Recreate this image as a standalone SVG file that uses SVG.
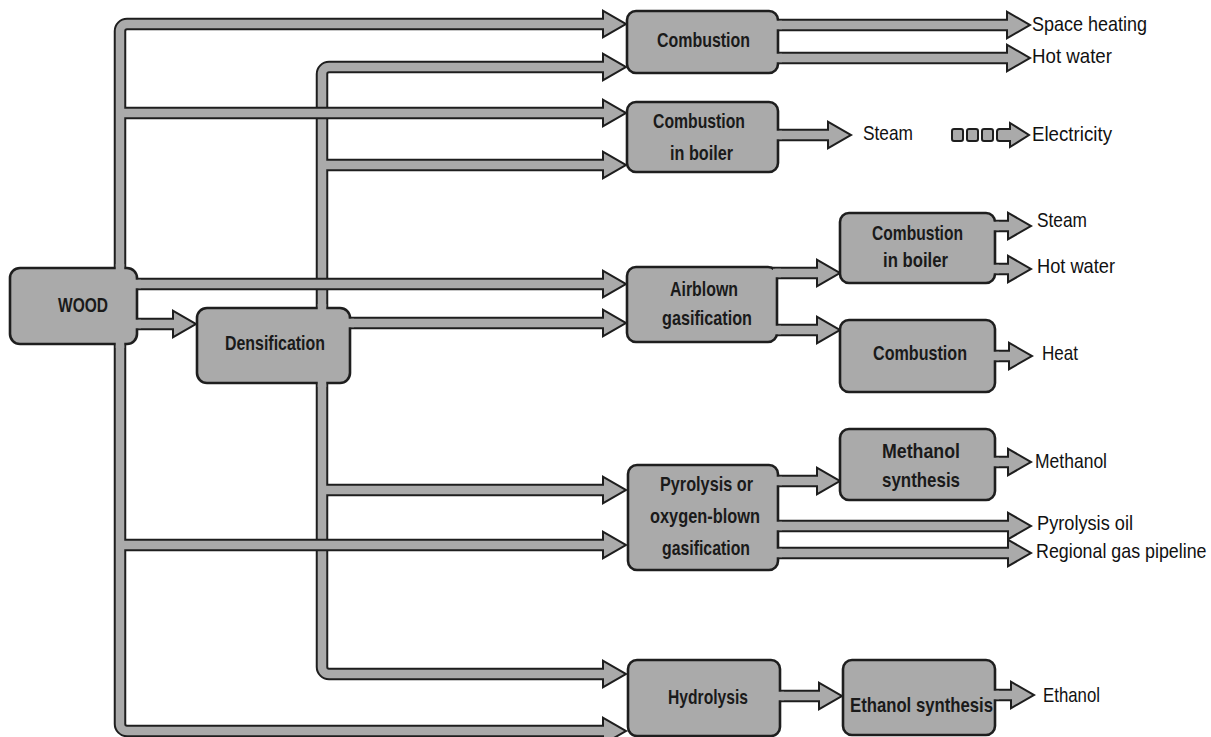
<svg xmlns="http://www.w3.org/2000/svg" xmlns:xlink="http://www.w3.org/1999/xlink" width="1211" height="737" viewBox="0 0 1211 737">
<style>
.pd{fill:none;stroke:#1e1e1e;stroke-width:12.5;stroke-linecap:butt}
.pg{fill:none;stroke:#aaaaaa;stroke-width:8.5;stroke-linecap:butt}
.hd{fill:#1e1e1e;stroke:#1e1e1e;stroke-width:4;stroke-linejoin:miter}
.hg{fill:#aaaaaa;stroke:none}
.box{fill:#aaaaaa;stroke:#1e1e1e;stroke-width:2.6}
.patch{fill:#aaaaaa;stroke:none}
.lbl{font-family:"Liberation Sans",Arial,sans-serif;font-weight:bold;font-size:21px;fill:#1a1a1a;text-anchor:middle}
.out{font-family:"Liberation Sans",Arial,sans-serif;font-size:21px;fill:#111}
.sq{fill:#aaaaaa;stroke:#1e1e1e;stroke-width:2}
</style>
<defs>
<path id="d1" d="M 606 67 H 329 A 7 7 0 0 0 322 74 V 667 A 7 7 0 0 0 329 674 H 606"/>
<path id="d2" d="M 322 165 H 606"/>
<path id="d3" d="M 340 323 H 606"/>
<path id="d4" d="M 322 490 H 606"/>
<polygon id="dh1" points="604,55.5 624,67 604,78.5"/>
<polygon id="dh2" points="604,153.5 624,165 604,176.5"/>
<polygon id="dh3" points="604,311.5 624,323 604,334.5"/>
<polygon id="dh4" points="604,478.5 624,490 604,501.5"/>
<polygon id="dh5" points="604,662.5 624,674 604,685.5"/>
<path id="w1" d="M 606 24 H 127 A 7 7 0 0 0 120 31 V 724 A 7 7 0 0 0 127 731 H 606"/>
<path id="w2" d="M 120 113 H 606"/>
<path id="w3" d="M 120 284 H 606"/>
<path id="w4" d="M 120 545 H 606"/>
<path id="w5" d="M 120 324 H 176"/>
<polygon id="wh1" points="604,12.5 624,24 604,35.5"/>
<polygon id="wh2" points="604,101.5 624,113 604,124.5"/>
<polygon id="wh3" points="604,272.5 624,284 604,295.5"/>
<polygon id="wh4" points="604,533.5 624,545 604,556.5"/>
<polygon id="wh5" points="604,719.5 624,731 604,742.5"/>
<polygon id="wh6" points="174,312.5 194,324 174,335.5"/>
<path id="o1" d="M 770 25 H 1010"/>
<path id="o2" d="M 770 58 H 1010"/>
<path id="o3" d="M 770 135 H 831"/>
<path id="o4" d="M 770 273 H 820"/>
<path id="o5" d="M 770 330 H 820"/>
<path id="o6" d="M 770 481 H 820"/>
<path id="o7" d="M 770 526 H 1011"/>
<path id="o8" d="M 770 553 H 1011"/>
<path id="o9" d="M 772 696 H 822"/>
<path id="o10" d="M 988 226 H 1011"/>
<path id="o11" d="M 988 269 H 1011"/>
<path id="o12" d="M 988 356 H 1012"/>
<path id="o13" d="M 988 462 H 1011"/>
<path id="o14" d="M 988 695 H 1014"/>
<polygon id="oh1" points="1008,13.5 1028,25 1008,36.5"/>
<polygon id="oh2" points="1008,46.5 1028,58 1008,69.5"/>
<polygon id="oh3" points="829,123.5 849,135 829,146.5"/>
<polygon id="oh4" points="818,261.5 838,273 818,284.5"/>
<polygon id="oh5" points="818,318.5 838,330 818,341.5"/>
<polygon id="oh6" points="818,469.5 838,481 818,492.5"/>
<polygon id="oh7" points="1009,514.5 1029,526 1009,537.5"/>
<polygon id="oh8" points="1009,541.5 1029,553 1009,564.5"/>
<polygon id="oh9" points="820,684.5 840,696 820,707.5"/>
<polygon id="oh10" points="1009,214.5 1029,226 1009,237.5"/>
<polygon id="oh11" points="1009,257.5 1029,269 1009,280.5"/>
<polygon id="oh12" points="1010,344.5 1030,356 1010,367.5"/>
<polygon id="oh13" points="1009,450.5 1029,462 1009,473.5"/>
<polygon id="oh14" points="1012,683.5 1032,695 1012,706.5"/>
</defs>
<rect width="1211" height="737" fill="#ffffff"/>

<g id="connectors">
  <g id="conn-densification">
    <g class="pd"><use href="#d1"/><use href="#d2"/><use href="#d3"/><use href="#d4"/></g>
    <g class="hd"><use href="#dh1"/><use href="#dh2"/><use href="#dh3"/><use href="#dh4"/><use href="#dh5"/></g>
    <g class="pg"><use href="#d1"/><use href="#d2"/><use href="#d3"/><use href="#d4"/></g>
    <g class="hg"><use href="#dh1"/><use href="#dh2"/><use href="#dh3"/><use href="#dh4"/><use href="#dh5"/></g>
  </g>
  <g id="conn-wood">
    <g class="pd"><use href="#w1"/><use href="#w2"/><use href="#w3"/><use href="#w4"/><use href="#w5"/></g>
    <g class="hd"><use href="#wh1"/><use href="#wh2"/><use href="#wh3"/><use href="#wh4"/><use href="#wh5"/><use href="#wh6"/></g>
    <g class="pg"><use href="#w1"/><use href="#w2"/><use href="#w3"/><use href="#w4"/><use href="#w5"/></g>
    <g class="hg"><use href="#wh1"/><use href="#wh2"/><use href="#wh3"/><use href="#wh4"/><use href="#wh5"/><use href="#wh6"/></g>
  </g>
  <g id="conn-outputs">
    <g class="pd"><use href="#o1"/><use href="#o2"/><use href="#o3"/><use href="#o4"/><use href="#o5"/><use href="#o6"/><use href="#o7"/><use href="#o8"/><use href="#o9"/><use href="#o10"/><use href="#o11"/><use href="#o12"/><use href="#o13"/><use href="#o14"/></g>
    <g class="hd"><use href="#oh1"/><use href="#oh2"/><use href="#oh3"/><use href="#oh4"/><use href="#oh5"/><use href="#oh6"/><use href="#oh7"/><use href="#oh8"/><use href="#oh9"/><use href="#oh10"/><use href="#oh11"/><use href="#oh12"/><use href="#oh13"/><use href="#oh14"/></g>
    <g class="pg"><use href="#o1"/><use href="#o2"/><use href="#o3"/><use href="#o4"/><use href="#o5"/><use href="#o6"/><use href="#o7"/><use href="#o8"/><use href="#o9"/><use href="#o10"/><use href="#o11"/><use href="#o12"/><use href="#o13"/><use href="#o14"/></g>
    <g class="hg"><use href="#oh1"/><use href="#oh2"/><use href="#oh3"/><use href="#oh4"/><use href="#oh5"/><use href="#oh6"/><use href="#oh7"/><use href="#oh8"/><use href="#oh9"/><use href="#oh10"/><use href="#oh11"/><use href="#oh12"/><use href="#oh13"/><use href="#oh14"/></g>
  </g>
  <g id="conn-electricity">
    <rect class="sq" x="952" y="129" width="11" height="12" rx="2"/>
    <rect class="sq" x="967" y="129" width="11" height="12" rx="2"/>
    <rect class="sq" x="982" y="129" width="11" height="12" rx="2"/>
    <path class="sq" d="M 1010 129 H 999.5 Q 997 129 997 131.5 V 138.5 Q 997 141 999.5 141 H 1010 V 147 L 1029 135 L 1010 123 Z"/>
  </g>
</g>

<g id="node-wood">
  <rect class="box" x="10" y="268" width="127" height="76" rx="10"/>
  <rect class="patch" x="115.75" y="264" width="8.5" height="8"/>
  <rect class="patch" x="115.75" y="340" width="8.5" height="8"/>
  <rect class="patch" x="133" y="279.75" width="8" height="8.5"/>
  <rect class="patch" x="133" y="319.75" width="8" height="8.5"/>
  <text class="lbl" x="83" y="312" textLength="50" lengthAdjust="spacingAndGlyphs">WOOD</text>
</g>
<g id="node-densification">
  <rect class="box" x="197" y="308" width="153" height="75" rx="10"/>
  <rect class="patch" x="317.75" y="304" width="8.5" height="8"/>
  <rect class="patch" x="317.75" y="379" width="8.5" height="8"/>
  <rect class="patch" x="346" y="318.75" width="8" height="8.5"/>
  <text class="lbl" x="275" y="350" textLength="100" lengthAdjust="spacingAndGlyphs">Densification</text>
</g>
<g id="node-combustion-1">
  <rect class="box" x="627" y="11" width="151" height="62" rx="9"/>
  <rect class="patch" x="774" y="20.75" width="8" height="8.5"/>
  <rect class="patch" x="774" y="53.75" width="8" height="8.5"/>
  <text class="lbl" x="703.5" y="47" textLength="93" lengthAdjust="spacingAndGlyphs">Combustion</text>
</g>
<g id="node-combustion-boiler-1">
  <rect class="box" x="627" y="102" width="151" height="70" rx="9"/>
  <rect class="patch" x="774" y="130.75" width="8" height="8.5"/>
  <text class="lbl" x="699" y="128" textLength="92" lengthAdjust="spacingAndGlyphs">Combustion</text>
  <text class="lbl" x="701.5" y="160" textLength="63" lengthAdjust="spacingAndGlyphs">in boiler</text>
</g>
<g id="node-airblown">
  <rect class="box" x="627" y="267" width="150" height="75" rx="9"/>
  <rect class="patch" x="773" y="268.75" width="8" height="8.5"/>
  <rect class="patch" x="773" y="325.75" width="8" height="8.5"/>
  <text class="lbl" x="704" y="296" textLength="68" lengthAdjust="spacingAndGlyphs">Airblown</text>
  <text class="lbl" x="707" y="325" textLength="90" lengthAdjust="spacingAndGlyphs">gasification</text>
</g>
<g id="node-pyrolysis">
  <rect class="box" x="628" y="465" width="150" height="105" rx="9"/>
  <rect class="patch" x="774" y="476.75" width="8" height="8.5"/>
  <rect class="patch" x="774" y="521.75" width="8" height="8.5"/>
  <rect class="patch" x="774" y="548.75" width="8" height="8.5"/>
  <text class="lbl" x="706.5" y="491" textLength="93" lengthAdjust="spacingAndGlyphs">Pyrolysis or</text>
  <text class="lbl" x="705" y="523" textLength="110" lengthAdjust="spacingAndGlyphs">oxygen-blown</text>
  <text class="lbl" x="706" y="555" textLength="88" lengthAdjust="spacingAndGlyphs">gasification</text>
</g>
<g id="node-hydrolysis">
  <rect class="box" x="628" y="660" width="152" height="76" rx="9"/>
  <rect class="patch" x="776" y="691.75" width="8" height="8.5"/>
  <text class="lbl" x="708" y="704" textLength="80" lengthAdjust="spacingAndGlyphs">Hydrolysis</text>
</g>
<g id="node-combustion-boiler-2">
  <rect class="box" x="840" y="213" width="155" height="70" rx="9"/>
  <rect class="patch" x="991" y="221.75" width="8" height="8.5"/>
  <rect class="patch" x="991" y="264.75" width="8" height="8.5"/>
  <text class="lbl" x="917.5" y="240" textLength="91" lengthAdjust="spacingAndGlyphs">Combustion</text>
  <text class="lbl" x="915.5" y="267" textLength="65" lengthAdjust="spacingAndGlyphs">in boiler</text>
</g>
<g id="node-combustion-2">
  <rect class="box" x="840" y="320" width="155" height="72" rx="9"/>
  <rect class="patch" x="991" y="351.75" width="8" height="8.5"/>
  <text class="lbl" x="920" y="360" textLength="94" lengthAdjust="spacingAndGlyphs">Combustion</text>
</g>
<g id="node-methanol-synthesis">
  <rect class="box" x="840" y="429" width="155" height="71" rx="9"/>
  <rect class="patch" x="991" y="457.75" width="8" height="8.5"/>
  <text class="lbl" x="921" y="458" textLength="78" lengthAdjust="spacingAndGlyphs">Methanol</text>
  <text class="lbl" x="921" y="487" textLength="78" lengthAdjust="spacingAndGlyphs">synthesis</text>
</g>
<g id="node-ethanol-synthesis">
  <rect class="box" x="843" y="660" width="152" height="75" rx="9"/>
  <rect class="patch" x="991" y="690.75" width="8" height="8.5"/>
  <text class="lbl" x="921.5" y="712" textLength="143" lengthAdjust="spacingAndGlyphs">Ethanol synthesis</text>
</g>

<g id="out-space-heating"><text class="out" x="1032" y="31" textLength="115" lengthAdjust="spacingAndGlyphs">Space heating</text></g>
<g id="out-hot-water-1"><text class="out" x="1032" y="63" textLength="80" lengthAdjust="spacingAndGlyphs">Hot water</text></g>
<g id="out-steam-1"><text class="out" x="863" y="140" textLength="50" lengthAdjust="spacingAndGlyphs">Steam</text></g>
<g id="out-electricity"><text class="out" x="1032" y="141" textLength="80" lengthAdjust="spacingAndGlyphs">Electricity</text></g>
<g id="out-steam-2"><text class="out" x="1037" y="227" textLength="50" lengthAdjust="spacingAndGlyphs">Steam</text></g>
<g id="out-hot-water-2"><text class="out" x="1037" y="273" textLength="78" lengthAdjust="spacingAndGlyphs">Hot water</text></g>
<g id="out-heat"><text class="out" x="1042" y="360" textLength="36" lengthAdjust="spacingAndGlyphs">Heat</text></g>
<g id="out-methanol"><text class="out" x="1035" y="468" textLength="72" lengthAdjust="spacingAndGlyphs">Methanol</text></g>
<g id="out-pyrolysis-oil"><text class="out" x="1037" y="530" textLength="96" lengthAdjust="spacingAndGlyphs">Pyrolysis oil</text></g>
<g id="out-regional-gas"><text class="out" transform="translate(1036,558) scale(0.85,1)" x="0" y="0">Regional gas pipeline</text></g>
<g id="out-ethanol"><text class="out" x="1043" y="702" textLength="57" lengthAdjust="spacingAndGlyphs">Ethanol</text></g>
</svg>
